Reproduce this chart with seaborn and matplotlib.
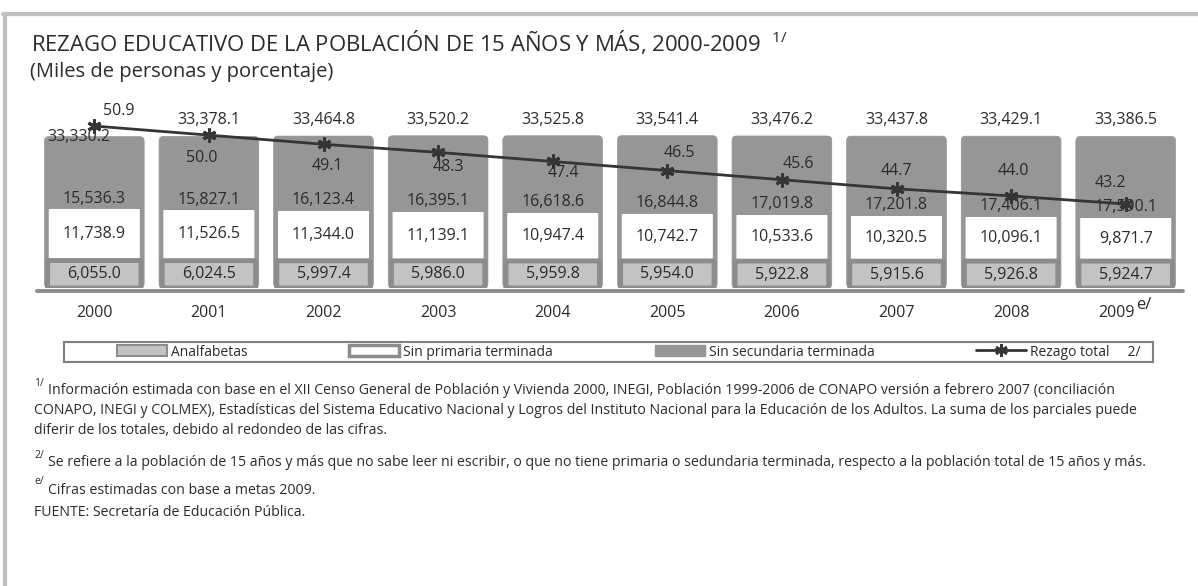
import numpy as np
import matplotlib
matplotlib.use("Agg")
import matplotlib.pyplot as plt
import matplotlib.transforms as mtransforms
import seaborn as sns
from matplotlib.patches import Patch, Rectangle, FancyBboxPatch
from matplotlib.lines import Line2D

### data (miles de personas y porcentaje)
years = ["2000", "2001", "2002", "2003", "2004", "2005", "2006", "2007", "2008", "2009"]
analfabetas = [6055.0, 6024.5, 5997.4, 5986.0, 5959.8, 5954.0, 5922.8, 5915.6, 5926.8, 5924.7]
sin_primaria = [11738.9, 11526.5, 11344.0, 11139.1, 10947.4, 10742.7, 10533.6, 10320.5, 10096.1, 9871.7]
sin_secundaria = [15536.3, 15827.1, 16123.4, 16395.1, 16618.6, 16844.8, 17019.8, 17201.8, 17406.1, 17590.1]
totales = [33330.2, 33378.1, 33464.8, 33520.2, 33525.8, 33541.4, 33476.2, 33437.8, 33429.1, 33386.5]
rezago = [50.9, 50.0, 49.1, 48.3, 47.4, 46.5, 45.6, 44.7, 44.0, 43.2]

### label nudges in pixels (right, down) - style only
pct_nudge = [(24, -15), (-7, 23), (4, 22), (10, 15), (11, 12), (12, -18), (16, -16), (0, -18), (2, -25), (-15, -21)]
tot_nudge = [(-15, 0)] + [(0, -16)] * 9

W, H = 1198, 586
def fx(px): return px / W
def fy(py): return 1 - py / H

sns.set_style("white")
plt.rcParams["font.family"] = ["Open Sans", "DejaVu Sans"]
plt.rcParams["mathtext.fontset"] = "custom"
plt.rcParams["mathtext.rm"] = "Open Sans"

dark = "#969696"
light = "#c3c3c3"
edge = "#8c8c8c"
linec = "#353535"
txt = "#2b2b2b"

fig = plt.figure(figsize=(W / 100, H / 100), dpi=100)
ax = fig.add_axes([fx(37), fy(288), fx(1183) - fx(37), (288 - 100) / H])

cum_ap = [a + p for a, p in zip(analfabetas, sin_primaria)]

sns.barplot(x=years, y=totales, color=dark, saturation=1, width=0.87, errorbar=None,
            edgecolor=dark, linewidth=0.5, ax=ax)
sns.barplot(x=years, y=cum_ap, color="white", saturation=1, width=0.825, errorbar=None,
            edgecolor=dark, linewidth=2.5, ax=ax)
sns.barplot(x=years, y=analfabetas, color=light, saturation=1, width=0.815, errorbar=None,
            edgecolor=edge, linewidth=3.5, ax=ax)

ax.set_xlim(-0.5, 9.5)
ax.set_ylim(0, 41400)

# round bar corners
bb = ax.get_position()
sx = bb.width * W / 10.0
sy = bb.height * H / 41400.0
n = len(years)
radii = [4.5] * n + [2.0] * n + [1.0] * n
for p, r in zip(list(ax.patches), radii):
    x, y, w, h = p.get_x(), p.get_y(), p.get_width(), p.get_height()
    rs = r / sx
    fb = FancyBboxPatch((x, y), w, h, boxstyle="round,pad=0,rounding_size=%f" % rs,
                        mutation_aspect=(r / sy) / rs, fc=p.get_facecolor(),
                        ec=p.get_edgecolor(), lw=p.get_linewidth(), zorder=p.get_zorder())
    p.remove()
    ax.add_patch(fb)

ax.set_yticks([])
ax.set_xlabel("")
ax.set_ylabel("")
for s in ["top", "left", "right"]:
    ax.spines[s].set_visible(False)
ax.spines["bottom"].set_position(("outward", 2.2))
ax.spines["bottom"].set_color(edge)
ax.spines["bottom"].set_linewidth(2.8)
ax.spines["bottom"].set_capstyle("round")
ax.set_xticks(np.arange(-0.5, 10, 1), minor=True)
ax.tick_params(axis="x", which="minor", length=3.5, width=2.8, color=edge, direction="out")
ax.tick_params(axis="x", which="major", length=0, pad=10, labelsize=11.5, labelcolor=txt)
ax.set_xticks(range(n))
ax.set_xticklabels(years)
last = ax.get_xticklabels()[-1]
last.set_transform(last.get_transform() + mtransforms.ScaledTranslation(-0.09, 0, fig.dpi_scale_trans))
ax.annotate("e/", xy=(1, 1), xycoords=last, xytext=(0.5, 0), textcoords="offset points",
            ha="left", va="center", fontsize=12, color=txt)

# value labels
for i in range(n):
    ax.text(i, analfabetas[i] / 2, f"{analfabetas[i]:,.1f}", ha="center", va="center",
            fontsize=11.5, color=txt)
    ax.text(i, analfabetas[i] + sin_primaria[i] / 2, f"{sin_primaria[i]:,.1f}", ha="center",
            va="center", fontsize=11.5, color=txt)
    ax.text(i, cum_ap[i] + sin_secundaria[i] * 0.12, f"{sin_secundaria[i]:,.1f}", ha="center",
            va="center", fontsize=11.5, color=txt)
    dx, dy = tot_nudge[i]
    ax.annotate(f"{totales[i]:,.1f}", (i, totales[i]), xytext=(dx * 0.72, -dy * 0.72),
                textcoords="offset points", ha="center", va="center", fontsize=11.5, color=txt)

# rezago total line
ax2 = ax.twinx()
ax2.set_position(ax.get_position())
sns.lineplot(x=np.arange(n), y=rezago, ax=ax2, color=linec, linewidth=2,
             marker=(6, 2, 0), markersize=10, markeredgewidth=2.2, markeredgecolor=linec)
ax2.set_ylim(34.91, 53.47)
ax2.set_xlim(-0.5, 9.5)
ax2.set_yticks([])
ax2.set_ylabel("")
for s in ax2.spines.values():
    s.set_visible(False)
for i in range(n):
    dx, dy = pct_nudge[i]
    ax2.annotate(f"{rezago[i]:.1f}", (i, rezago[i]), xytext=(dx * 0.72, -dy * 0.72),
                 textcoords="offset points", ha="center", va="center", fontsize=11.5, color=txt)

# titles
fig.text(fx(31), fy(42), r"REZAGO EDUCATIVO DE LA POBLACIÓN DE 15 AÑOS Y MÁS, 2000-2009  $^{\mathrm{1/}}$",
         fontsize=15.9, color=txt, va="center")
fig.text(fx(30), fy(72), "(Miles de personas y porcentaje)", fontsize=14.5, color=txt, va="center")

# legend
handles = [Patch(fc=light, ec=edge, lw=1.5),
           Patch(fc="white", ec=edge, lw=2.5),
           Patch(fc=dark, ec=dark, lw=1),
           Line2D([], [], color=linec, lw=2, marker=(6, 2, 0), markersize=9, mew=2)]
names = ["Analfabetas", "Sin primaria terminada", "Sin secundaria terminada", "Rezago total     2/"]
fig.legend(handles, names, loc="center", ncol=4, mode="expand", frameon=False,
           bbox_to_anchor=(fx(117), fy(362), fx(1141) - fx(117), 20 / H),
           fontsize=10, handlelength=3.6, handleheight=0.85, handletextpad=0.3,
           borderpad=0, borderaxespad=0, labelcolor=txt)
fig.add_artist(Rectangle((fx(64), fy(362)), fx(1153) - fx(64), 20 / H, transform=fig.transFigure,
                         fill=False, ec="#808080", lw=1.5))

# footnotes
fs = 10.2
sup = 7.5
fig.text(fx(34), fy(383), "1/", fontsize=sup, color=txt, va="center")
fig.text(fx(48), fy(391), "Información estimada con base en el XII Censo General de Población y Vivienda 2000, INEGI, "
         "Población 1999-2006 de CONAPO versión a febrero 2007 (conciliación", fontsize=fs, color=txt, va="center")
fig.text(fx(34), fy(411), "CONAPO, INEGI y COLMEX), Estadísticas del Sistema Educativo Nacional y Logros del Instituto "
         "Nacional para la Educación de los Adultos. La suma de los parciales puede", fontsize=fs, color=txt, va="center")
fig.text(fx(34), fy(431), "diferir de los totales, debido al redondeo de las cifras.", fontsize=fs, color=txt, va="center")
fig.text(fx(34), fy(456), "2/", fontsize=sup, color=txt, va="center")
fig.text(fx(48), fy(463), "Se refiere a la población de 15 años y más que no sabe leer ni escribir, o que no tiene primaria "
         "o sedundaria terminada, respecto a la población total de 15 años y más.", fontsize=fs, color=txt, va="center")
fig.text(fx(34), fy(482), "e/", fontsize=sup, color=txt, va="center")
fig.text(fx(48), fy(490), "Cifras estimadas con base a metas 2009.", fontsize=fs, color=txt, va="center")
fig.text(fx(34), fy(512), "FUENTE: Secretaría de Educación Pública.", fontsize=fs, color=txt, va="center")

# outer frame
fig.add_artist(Line2D([fx(3), 1], [fy(14), fy(14)], transform=fig.transFigure, color="#c0c0c0", lw=3))
fig.add_artist(Line2D([fx(5), fx(5)], [fy(14), 0], transform=fig.transFigure, color="#c0c0c0", lw=3))

fig.savefig("out.png", dpi=100)
